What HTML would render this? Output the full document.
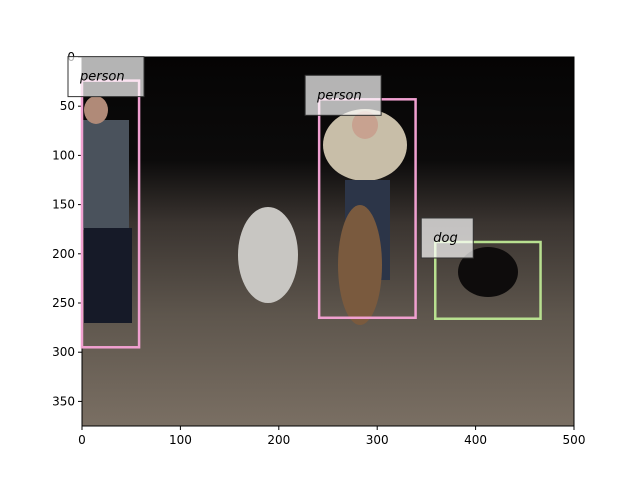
<!DOCTYPE html>
<html><head><meta charset="utf-8"><style>
body{margin:0;background:#fff}
svg{display:block;font-family:"DejaVu Sans","Liberation Sans",sans-serif}
</style></head><body>
<svg id="c" width="640" height="480">
<defs>
<linearGradient id="bg" x1="0" y1="0" x2="0" y2="1">
<stop offset="0" stop-color="#050404"/><stop offset="0.28" stop-color="#0c0b0b"/>
<stop offset="0.45" stop-color="#3a3430"/><stop offset="0.7" stop-color="#5e564d"/>
<stop offset="1" stop-color="#7a6f63"/></linearGradient>
</defs>
<g id="plot"></g>
</svg>
<script>
const imgW=500, imgH=375;
const labels=['person','person','dog'];
const boxX0=[0,241,359];
const boxY0=[24,43,188];
const boxX1=[58,339,466];
const boxY1=[295,265,266];
const colors=['#f0a0d0','#f0a0d0','#b8e090'];
const xTicks=[0,100,200,300,400,500];
const yTicks=[0,50,100,150,200,250,300,350];
const L=82,T=57,S=0.984;
const sx=v=>L+v*S, sy=v=>T+v*S;
const NS='http://www.w3.org/2000/svg';
const g=document.getElementById('plot');
function mk(t,a,p){const e=document.createElementNS(NS,t);for(const k in a)e.setAttribute(k,a[k]);(p||g).appendChild(e);return e;}
const img=mk('rect',{x:sx(0),y:sy(0),width:imgW*S,height:imgH*S,fill:'url(#bg)'});


const sub=mk('g',{});


mk('rect',{x:82,y:120,width:47,height:110,fill:'#4a525c'},sub);
mk('rect',{x:84,y:228,width:48,height:95,fill:'#161a28'},sub);
mk('ellipse',{cx:96,cy:110,rx:12,ry:14,fill:'#b08a78'},sub);
mk('ellipse',{cx:268,cy:255,rx:30,ry:48,fill:'#c8c6c2'},sub);
mk('ellipse',{cx:365,cy:145,rx:42,ry:36,fill:'#c8bea8'},sub);
mk('rect',{x:345,y:180,width:45,height:100,fill:'#2c3548'},sub);
mk('ellipse',{cx:360,cy:265,rx:22,ry:60,fill:'#7a5a3e'},sub);
mk('ellipse',{cx:488,cy:272,rx:30,ry:25,fill:'#0e0c0c'},sub);
mk('ellipse',{cx:365,cy:125,rx:13,ry:14,fill:'#c8a290'},sub);
const fr=mk('rect',{x:sx(0),y:sy(0),width:imgW*S,height:imgH*S,fill:'none',stroke:'#000','stroke-width':1});


xTicks.forEach(v=>{const x=sx(v),y=sy(imgH);
 const t=mk('line',{x1:x,y1:y,x2:x,y2:y+4,stroke:'#000'});
 
 
 const tx=mk('text',{x:x,y:y+18,'font-size':12,'text-anchor':'middle'});tx.textContent=v;
 
 });
yTicks.forEach(v=>{const y=sy(v);
 const t=mk('line',{x1:L-4,y1:y,x2:L,y2:y,stroke:'#000'});
 
 
 const tx=mk('text',{x:L-7,y:y+4,'font-size':12,'text-anchor':'end'});tx.textContent=v;
 
 });
labels.forEach((lab,i)=>{
 const x0=sx(boxX0[i]),y0=sy(boxY0[i]),x1=sx(boxX1[i]),y1=sy(boxY1[i]);
 const b=mk('rect',{x:x0,y:y0,width:x1-x0,height:y1-y0,fill:'none',stroke:colors[i],'stroke-width':2.5});
 
 
 const w=lab.length*8+28;
 const lb=mk('rect',{x:x0-14,y:y0-24,width:w,height:40,fill:'rgba(255,255,255,0.7)',stroke:'#333','stroke-width':1});
 
 
 const tx=mk('text',{x:x0-2,y:y0,'font-size':13,'font-style':'italic'});tx.textContent=lab;
 
 
});
</script>
</body></html>
